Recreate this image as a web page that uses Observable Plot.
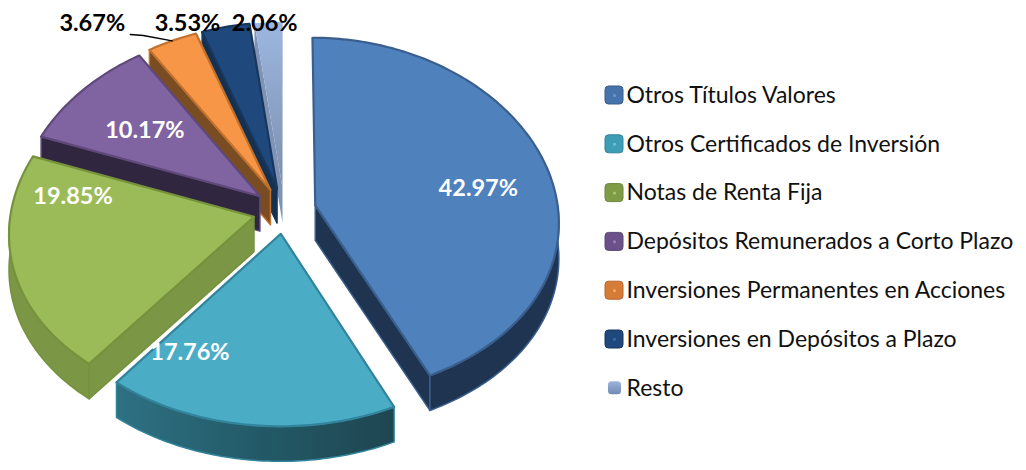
<!DOCTYPE html>
<html>
<head>
<meta charset="utf-8">
<script src="https://cdn.jsdelivr.net/npm/d3@7"></script>
<script src="https://cdn.jsdelivr.net/npm/@observablehq/plot@0.6"></script>
<style>
html,body{margin:0;padding:0;background:#fff;}
#chart{width:1026px;height:470px;overflow:hidden;}
</style>
</head>
<body>
<div id="chart"></div>
<script>
// ---------- data ----------
const categories = [
  "Otros Títulos Valores",
  "Otros Certificados de Inversión",
  "Notas de Renta Fija",
  "Depósitos Remunerados a Corto Plazo",
  "Inversiones Permanentes en Acciones",
  "Inversiones en Depósitos a Plazo",
  "Resto"
];
const shares = [42.97, 17.76, 19.85, 10.17, 3.67, 3.53, 2.06];
const valueLabels = ["42.97%", "17.76%", "19.85%", "10.17%", "3.67%", "3.53%", "2.06%"];

// ---------- styles ----------
const faceColors   = ["#4F81BD", "#4BACC6", "#9BBB59", "#8064A2", "#F79646", "#1F497D", "url(#restoFace)"];
const edgeColors   = ["#3A5F8E", "#31849B", "#76923C", "#5F497A", "#C0712E", "#17375E", "none"];
const wallColors   = ["#1F3451", "url(#cyanWall)", "#7B9644", "#31263F", "#7A4C22", "#16304F", "#7F93B5"];
const legendFill   = ["#4773AC", "#3E9DB5", "#7E9C46", "#6B5089", "#D57C38", "#1F497D", "url(#restoKey)"];
const legendEdge   = ["#385D8A", "#31849B", "#6A8538", "#5C4776", "#B8652A", "#17375E", "none"];
const legendDot    = ["#6F97CC", "#6CC2D8", "#A9C86E", "#9A82BC", "#F8A868", "#3D6AA3", "none"];

// label placement inside the 3D pie: fraction along slice angle, radius fraction, pixel nudge
const labelPlace = [
  {t: 0.531, r: 0.686, dx: 0,   fill: "white"},
  {t: 0.85,  r: 0.72,  dx: 0,   fill: "white"},
  {t: 0.84,  r: 0.76,  dx: 0,   fill: "white"},
  {t: 0.47,  r: 0.625, dx: 0,   fill: "white"},
  {t: 0.5,   r: 1.124, dx: -69, fill: "black", leader: true},
  {t: 0.5,   r: 1.024, dx: -37, fill: "black"},
  {t: 0.5,   r: 0.992, dx: -4,  fill: "black"}
];

// ---------- 3D geometry (projection of a tilted disk) ----------
const W = 1026, H = 470;
const G = {cx: 284, cy: 210, rx: 243, ry: 179, kx: 0.09, ky: 0.06, depth: 35, explode: 0.13};
function proj(X, Z) {
  return {x: G.cx + X * G.rx * (1 + G.kx * Z), y: G.cy + Z * G.ry * (1 + G.ky * Z), Z};
}
const arcs = d3.pie().sort(null).startAngle(0).endAngle(2 * Math.PI)(shares);

function slicePoint(s, r, a) {
  return proj(s.eX + r * Math.sin(a), s.eZ - r * Math.cos(a));
}
function arcPts(s, a0, a1) {
  const n = Math.max(2, Math.ceil(Math.abs(a1 - a0) / (Math.PI / 180)));
  return d3.range(n + 1).map(k => slicePoint(s, 1, a0 + (a1 - a0) * k / n));
}
const down = p => ({x: p.x, y: p.y + G.depth});

const slices = arcs.map((a, i) => {
  const m = (a.startAngle + a.endAngle) / 2;
  return {i, a0: a.startAngle, a1: a.endAngle, m,
          eX: G.explode * Math.sin(m), eZ: -G.explode * Math.cos(m)};
});

const order = slices.slice().sort((p, q) => (-Math.cos(p.m)) - (-Math.cos(q.m)));

const marks = [];
function poly(pts, fill, stroke, sw = 2) {
  marks.push(Plot.line(pts, {x: "x", y: "y", curve: "linear-closed", fill, stroke, strokeWidth: sw, strokeLinejoin: "round"}));
}

for (const s of order) {
  const apex = slicePoint(s, 0, 0);
  const wall = wallColors[s.i], edge = edgeColors[s.i], face = faceColors[s.i];
  // radial start wall
  if (Math.sin(s.a0) < -1e-6) {
    const o = slicePoint(s, 1, s.a0);
    poly([apex, o, down(o), down(apex)], wall, edge, 1.5);
  }
  // radial end wall
  if (Math.sin(s.a1) > 1e-6) {
    const o = slicePoint(s, 1, s.a1);
    poly([apex, o, down(o), down(apex)], wall, edge, 1.5);
  }
  // outer wall (front half)
  const w0 = Math.max(s.a0, Math.PI / 2), w1 = Math.min(s.a1, 3 * Math.PI / 2);
  if (w1 > w0) {
    const top = arcPts(s, w0, w1);
    poly(top.concat(top.map(down).reverse()), wall, edge, 1.5);
  }
  // top face
  poly([apex].concat(arcPts(s, s.a0, s.a1)), face, edge, 2.2);
}

// ---------- value labels ----------
const labelData = slices.map(s => {
  const L = labelPlace[s.i];
  const p = slicePoint(s, L.r, s.a0 + L.t * (s.a1 - s.a0));
  return {x: p.x + L.dx, y: p.y, text: valueLabels[s.i], fill: L.fill, s, L};
});
for (const d of labelData) {
  if (d.L.leader) {
    const tip = slicePoint(d.s, 1, d.s.m);
    marks.push(Plot.line([{x: d.x + 38, y: d.y + 11}, {x: d.x + 51, y: d.y + 12}, tip],
      {x: "x", y: "y", stroke: "black", strokeWidth: 1.3}));
  }
}
marks.push(Plot.text(labelData, {x: "x", y: "y", text: "text", fill: "fill",
  fontSize: 23.5, fontWeight: "bold", fontFamily: "Lato"}));

// ---------- legend ----------
const legendX = 605, legendY0 = 95, legendStep = 48.8, key = 18;
const legendRows = categories.map((c, i) => ({name: c, i, y: legendY0 + i * legendStep,
  small: i === categories.length - 1}));
marks.push(Plot.rect(legendRows, {
  x1: d => d.small ? legendX + 3 : legendX,
  x2: d => d.small ? legendX + key - 2 : legendX + key,
  y1: d => d.small ? d.y - 6.5 : d.y - key / 2,
  y2: d => d.small ? d.y + 6.5 : d.y + key / 2,
  fill: d => legendFill[d.i], stroke: d => legendEdge[d.i], strokeWidth: 1, rx: 3.5
}));
marks.push(Plot.dot(legendRows.filter(d => !d.small), {
  x: legendX + key / 2, y: "y", r: 1.5, fill: d => legendDot[d.i], symbol: "square"
}));
marks.push(Plot.text(legendRows, {x: legendX + key + 3, y: "y", text: "name", textAnchor: "start",
  fontSize: 23, fontFamily: "Lato", fill: "#111"}));

const svg = Plot.plot({
  width: W, height: H, margin: 0,
  x: {domain: [0, W], range: [0, W], axis: null},
  y: {domain: [0, H], range: [0, H], axis: null},
  color: {type: "identity"},
  style: {background: "white", overflow: "visible"},
  marks
});
d3.select(svg).insert("defs", ":first-child").html(`
  <linearGradient id="restoFace" x1="0" y1="0" x2="0" y2="1">
    <stop offset="0" stop-color="#9CB7E0"/><stop offset="1" stop-color="#7C8EAD"/>
  </linearGradient>
  <linearGradient id="restoKey" x1="0" y1="0" x2="0" y2="1">
    <stop offset="0" stop-color="#9CB5DD"/><stop offset="1" stop-color="#7288B0"/>
  </linearGradient>
  <linearGradient id="cyanWall" x1="0" y1="0" x2="1" y2="0">
    <stop offset="0" stop-color="#2E7183"/><stop offset="0.5" stop-color="#235A68"/><stop offset="1" stop-color="#1E4650"/>
  </linearGradient>`);
document.getElementById("chart").appendChild(svg);
</script>
</body>
</html>
